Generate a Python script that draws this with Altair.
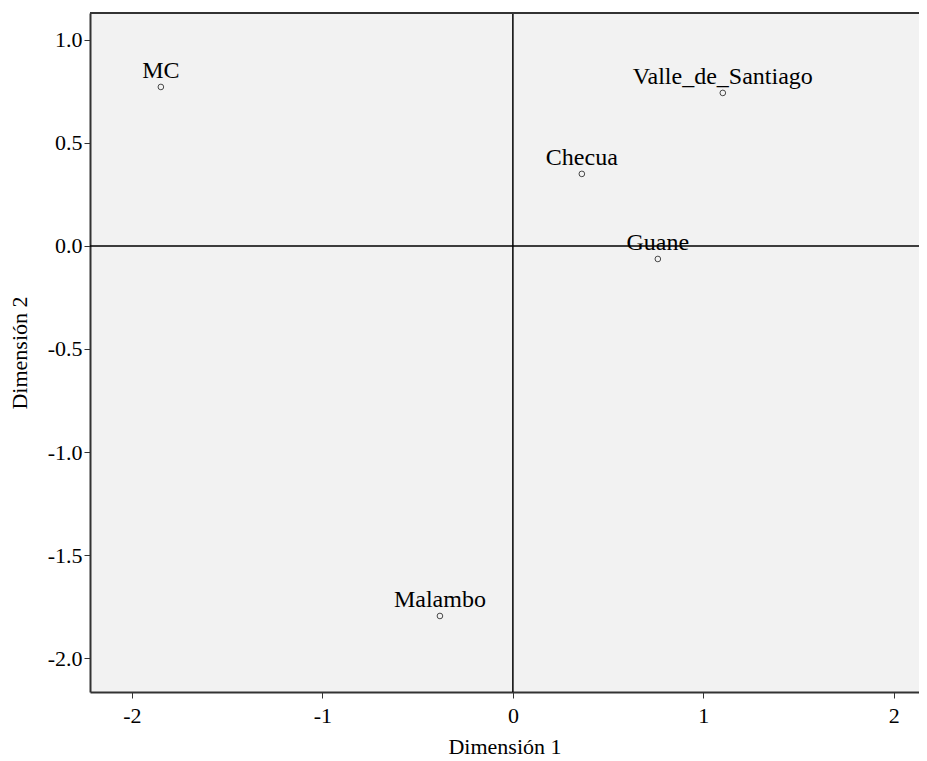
import altair as alt
import pandas as pd

names = ["MC", "Valle_de_Santiago", "Checua", "Guane", "Malambo"]
dim1 = [-1.848, 1.102, 0.362, 0.761, -0.383]
dim2 = [0.772, 0.743, 0.350, -0.063, -1.796]

x_ticks = [-2, -1, 0, 1, 2]
y_ticks = [1.0, 0.5, 0.0, -0.5, -1.0, -1.5, -2.0]

df = pd.DataFrame({"name": names, "d1": dim1, "d2": dim2})

FONT = "Liberation Serif"
XDOM = [-2.22, 2.132]
YDOM = [-2.165, 1.131]

xs = alt.Scale(domain=XDOM, nice=False, zero=False)
ys = alt.Scale(domain=YDOM, nice=False, zero=False)

xaxis = alt.Axis(values=x_ticks, title="Dimensión 1", grid=False,
                 labelExpr="replace(format(datum.value, 'd'), '\u2212', '-')",
                 labelFontSize=22, titleFontSize=22, labelFont=FONT, titleFont=FONT,
                 labelColor="black", titleColor="black", titleFontWeight="normal",
                 tickSize=6, tickColor="#333", labelPadding=7, titlePadding=10,
                 domainColor="#333", domainWidth=2, labelFlush=False)
yaxis = alt.Axis(values=y_ticks, title="Dimensión 2", grid=False,
                 labelExpr="replace(format(datum.value, '.1f'), '\u2212', '-')",
                 labelFontSize=22, titleFontSize=22, labelFont=FONT, titleFont=FONT,
                 labelColor="black", titleColor="black", titleFontWeight="normal",
                 tickSize=6, tickColor="#333", labelPadding=2, titlePadding=16,
                 domainColor="#333", domainWidth=2, labelFlush=False)

base = alt.Chart(df)

points = base.mark_point(shape="circle", filled=False, color="black",
                         size=32, strokeWidth=1).encode(
    x=alt.X("d1:Q", scale=xs, axis=xaxis),
    y=alt.Y("d2:Q", scale=ys, axis=yaxis),
)

labels = base.mark_text(font=FONT, fontSize=24, color="black",
                        baseline="alphabetic", align="center", dy=-9).encode(
    x=alt.X("d1:Q", scale=xs),
    y=alt.Y("d2:Q", scale=ys),
    text="name:N",
)

zero_df = pd.DataFrame({"z": [0]})
vline = alt.Chart(zero_df).mark_rule(color="black", strokeWidth=1.5).encode(
    x=alt.X("z:Q", scale=xs)
)
hline = alt.Chart(zero_df).mark_rule(color="black", strokeWidth=1.5).encode(
    y=alt.Y("z:Q", scale=ys)
)

top_border = alt.Chart(zero_df).mark_rule(color="#333", strokeWidth=2).encode(
    x=alt.value(0), x2=alt.value(829), y=alt.value(0)
)

chart = alt.layer(vline, hline, top_border, points, labels).properties(
    width=829, height=679,
    autosize=alt.AutoSizeParams(type="none"),
    padding={"left": 82, "top": 5, "right": 0, "bottom": 66},
    background="white",
).configure_view(fill="#f2f2f2", stroke=None)

chart.save("out.html", embed_options={"renderer": "svg", "actions": False})
